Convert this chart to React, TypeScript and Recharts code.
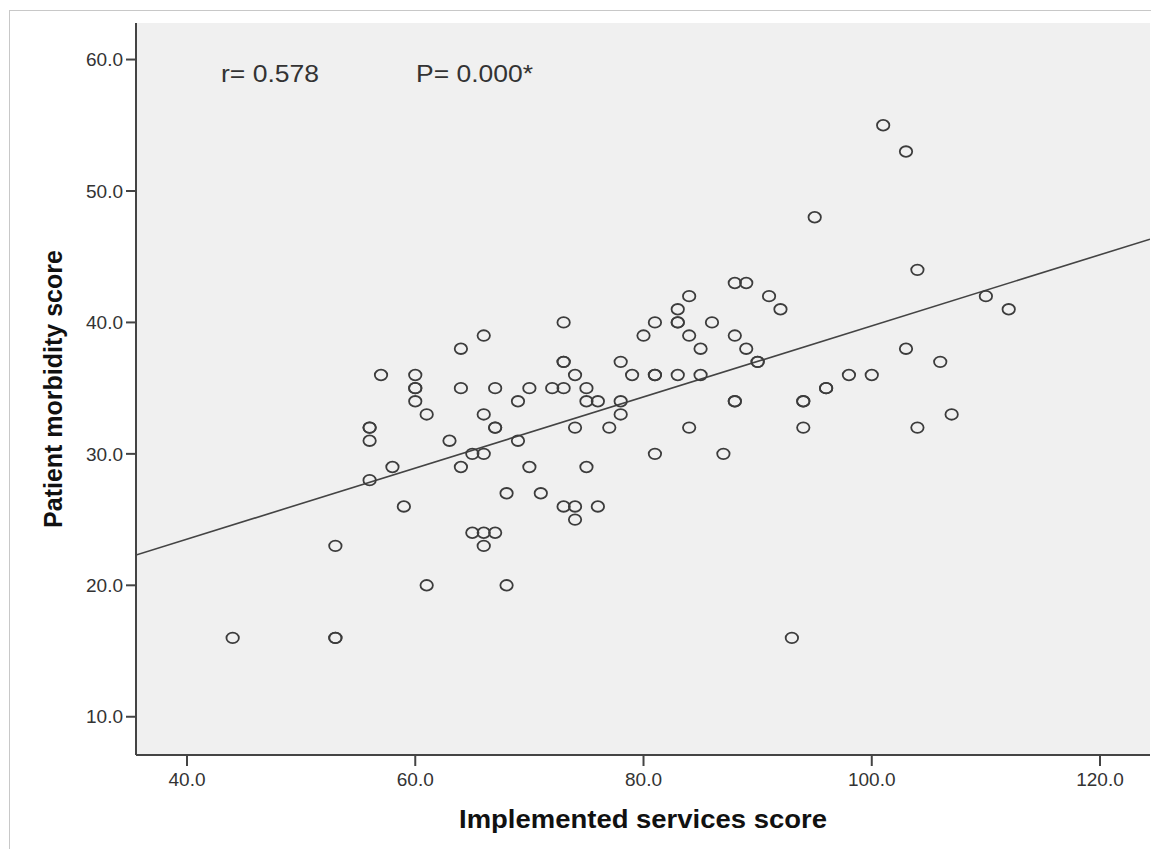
import React from 'react';
import {
  ScatterChart,
  Scatter,
  XAxis,
  YAxis,
  CartesianGrid,
  ReferenceLine,
  Customized
} from 'recharts';

// Implemented services score (x) and patient morbidity score (y), one entry per patient
const serviceScores = [
  44,
  53, 53, 53,
  56, 56, 56, 56,
  57, 58, 59,
  60, 60, 60, 60,
  61, 61, 63,
  64, 64, 64,
  65, 65,
  66, 66, 66, 66, 66,
  67, 67, 67, 67,
  68, 68, 69, 69, 70, 70, 71, 72,
  73, 73, 73, 73, 73,
  74, 74, 74, 74,
  75, 75, 75, 76, 76, 77,
  78, 78, 78, 79, 80,
  81, 81, 81, 81,
  83, 83, 83, 83,
  84, 84, 84, 85, 85, 86, 87,
  88, 88, 88, 88, 89, 89, 90, 90,
  91, 92, 93, 94, 94, 94, 95, 96, 96,
  98, 100, 101, 103, 103, 104, 104, 106, 107, 110, 112
];

const morbidityScores = [
  16,
  23, 16, 16,
  28, 31, 32, 32,
  36, 29, 26,
  36, 35, 35, 34,
  33, 20, 31,
  38, 35, 29,
  30, 24,
  39, 33, 30, 24, 23,
  35, 32, 32, 24,
  27, 20, 34, 31, 35, 29, 27, 35,
  40, 37, 37, 35, 26,
  36, 32, 26, 25,
  35, 34, 29, 34, 26, 32,
  37, 34, 33, 36, 39,
  40, 36, 36, 30,
  41, 40, 40, 36,
  42, 39, 32, 38, 36, 40, 30,
  43, 39, 34, 34, 43, 38, 37, 37,
  42, 41, 16, 34, 34, 32, 48, 35, 35,
  36, 36, 55, 53, 38, 44, 32, 37, 33, 42, 41
];

const xTicks = [40, 60, 80, 100, 120];
const yTicks = [10, 20, 30, 40, 50, 60];
const xDomain = [35.53, 124.38];
const yDomain = [7.09, 62.78];

// linear fit shown on the chart
const fitIntercept = 12.69;
const fitSlope = 0.2705;

const rText = 'r= 0.578';
const pText = 'P= 0.000*';

const points = serviceScores.map((x, i) => ({ x, y: morbidityScores[i] }));

const fitSegment = [
  { x: xDomain[0], y: fitIntercept + fitSlope * xDomain[0] },
  { x: xDomain[1], y: fitIntercept + fitSlope * xDomain[1] }
];

const FONT = '"Liberation Sans", Arial, sans-serif';
const AXIS = '#444';
const axisLine = { stroke: AXIS, strokeWidth: 2 };

const OpenCircle = (props: any) => {
  const { cx, cy } = props;
  if (cx == null || cy == null) return null;
  return <ellipse cx={cx} cy={cy} rx={6.2} ry={5.3} fill="none" stroke="#3c3c3c" strokeWidth={1.8} />;
};

const Annotations = () => (
  <g fontFamily={FONT} fontSize={23} fill="#333">
    <text x={221} y={82} textLength={98} lengthAdjust="spacingAndGlyphs">{rText}</text>
    <text x={416} y={82} textLength={117} lengthAdjust="spacingAndGlyphs">{pText}</text>
  </g>
);

export default function App() {
  const tickStyle = { fontFamily: FONT, fontSize: 19, fill: '#333' };
  return (
    <div style={{ position: 'absolute', left: 0, top: 0, width: 1151, height: 849, overflow: 'hidden', background: '#fff' }}>
      <div
        style={{
          position: 'absolute',
          left: 9,
          top: 10,
          width: 1150,
          height: 860,
          border: '1px solid #c8c8c8'
        }}
      />
      <div style={{ position: 'absolute', left: 0, top: 0 }}>
        <ScatterChart width={1151} height={849} margin={{ top: 23, right: 1, bottom: 34, left: 56 }}>
          <CartesianGrid horizontal={false} vertical={false} fill="#f0f0f0" />
          <XAxis
            type="number"
            dataKey="x"
            domain={xDomain}
            ticks={xTicks}
            allowDataOverflow
            tickFormatter={(v: number) => v.toFixed(1)}
            height={60}
            tickSize={11}
            tickMargin={7}
            axisLine={axisLine}
            tickLine={axisLine}
            tick={tickStyle}
            label={{
              content: ({ viewBox }: any) => (
                <text
                  x={viewBox.x + viewBox.width / 2}
                  y={viewBox.y + 73}
                  textAnchor="middle"
                  fontFamily={FONT}
                  fontWeight="bold"
                  fontSize={25}
                  textLength={368}
                  lengthAdjust="spacingAndGlyphs"
                  fill="#111"
                >
                  Implemented services score
                </text>
              )
            }}
          />
          <YAxis
            type="number"
            dataKey="y"
            domain={yDomain}
            ticks={yTicks}
            allowDataOverflow
            tickFormatter={(v: number) => v.toFixed(1)}
            width={80}
            tickSize={10}
            tickMargin={3}
            axisLine={axisLine}
            tickLine={axisLine}
            tick={tickStyle}
            label={{
              content: ({ viewBox }: any) => {
                const cy = viewBox.y + viewBox.height / 2;
                return (
                  <text
                    x={53}
                    y={cy}
                    transform={`rotate(-90, 53, ${cy})`}
                    textAnchor="middle"
                    dominantBaseline="central"
                    fontFamily={FONT}
                    fontWeight="bold"
                    fontSize={25}
                    fill="#111"
                  >
                    Patient morbidity score
                  </text>
                );
              }
            }}
          />
          <XAxis xAxisId="top" orientation="top" type="number" domain={xDomain} height={0} tick={false} tickLine={false} axisLine={axisLine} />
          <YAxis yAxisId="right" orientation="right" type="number" domain={yDomain} width={0} tick={false} tickLine={false} axisLine={axisLine} />
          <ReferenceLine segment={fitSegment} stroke="#444" strokeWidth={1.6} ifOverflow="hidden" />
          <Scatter data={points} shape={OpenCircle} isAnimationActive={false} />
          <Customized component={Annotations} />
        </ScatterChart>
      </div>
    </div>
  );
}
